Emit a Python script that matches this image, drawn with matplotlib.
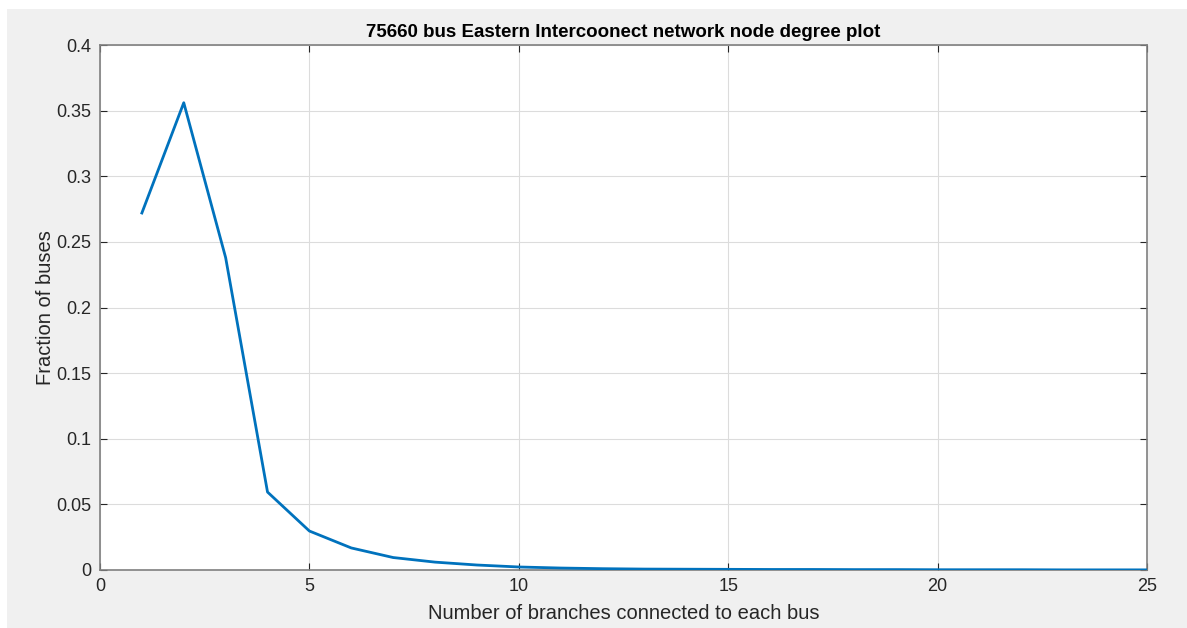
import matplotlib
matplotlib.use("Agg")
import matplotlib.pyplot as plt
from matplotlib.patches import Rectangle

degree = [1, 2, 3, 4, 5, 6, 7, 8, 9, 10, 11, 12, 13, 14, 15, 16, 17, 18, 19, 20, 21, 22, 23, 24, 25]
fraction = [0.272, 0.356, 0.238, 0.0594, 0.0297, 0.0168, 0.0095, 0.006, 0.0038, 0.0023,
            0.0015, 0.0010, 0.0007, 0.0006, 0.0005, 0.0004, 0.0004, 0.0003, 0.0003, 0.0002,
            0.0002, 0.0002, 0.0001, 0.0001, 0.0001]
xticks = [0, 5, 10, 15, 20, 25]
yticks = [0, 0.05, 0.1, 0.15, 0.2, 0.25, 0.3, 0.35, 0.4]
ytick_labels = ["0", "0.05", "0.1", "0.15", "0.2", "0.25", "0.3", "0.35", "0.4"]

plt.rcParams['font.family'] = ['Liberation Sans', 'DejaVu Sans']

W, H = 1187, 628
fig = plt.figure(figsize=(W / 100, H / 100), dpi=100)
fig.patch.set_facecolor('white')
fig.add_artist(Rectangle((7 / W, 0), 1 - 7 / W, 1 - 9 / H, transform=fig.transFigure,
                         facecolor='#f0f0f0', edgecolor='none', zorder=-10))

ax = fig.add_axes([100 / W, 1 - 570 / H, (1147 - 100) / W, (570 - 45) / H])
ax.set_facecolor('white')
ax.plot(degree, fraction, color='#0072BD', linewidth=2.0, zorder=3)
ax.set_xlim(0, 25)
ax.set_ylim(0, 0.4)
ax.set_xticks(xticks)
ax.set_yticks(yticks)
ax.set_yticklabels(ytick_labels)
ax.grid(True, color='#dcdcdc', linewidth=0.8)
ax.set_axisbelow(True)
ax.tick_params(direction='in', top=True, right=True, length=5, width=0.8,
               colors='#262626', labelsize=13, pad=6)
for s in ax.spines.values():
    s.set_color('#808080')
    s.set_linewidth(1.2)

ax.set_title('75660 bus Eastern Intercoonect network node degree plot',
             fontsize=13.5, fontweight='bold', color='black', pad=6)
ax.set_xlabel('Number of branches connected to each bus', fontsize=14.5, color='#262626', labelpad=6)
ax.set_ylabel('Fraction of buses', fontsize=14.5, color='#262626', labelpad=1)

fig.savefig('out.png', dpi=100, facecolor=fig.get_facecolor())
